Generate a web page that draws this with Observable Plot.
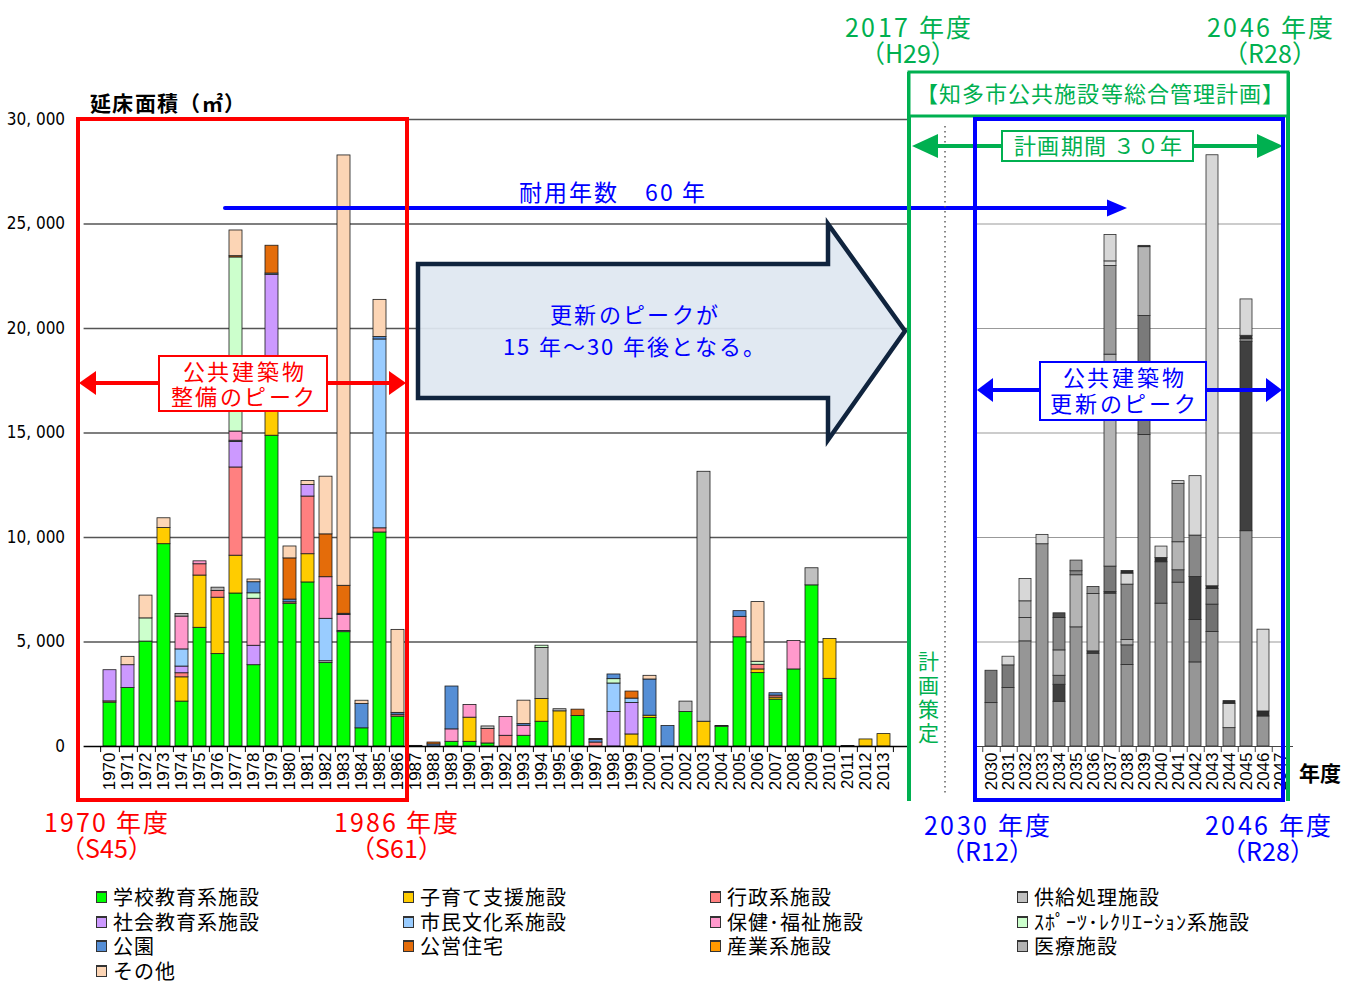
<!DOCTYPE html>
<html><head><meta charset="utf-8">
<script src="https://cdn.jsdelivr.net/npm/d3@7"></script>
<script src="https://cdn.jsdelivr.net/npm/@observablehq/plot@0.6"></script>
<style>
@font-face{font-family:"JPT";font-weight:400;src:local("Noto Sans CJK JP"),local("Noto Sans CJK JP Regular"),local("NotoSansCJKjp-Regular"),local("NotoSansCJKJP-Regular");ascent-override:88%;descent-override:12%;line-gap-override:0%;}
@font-face{font-family:"JPT";font-weight:700;src:local("Noto Sans CJK JP Bold"),local("NotoSansCJKjp-Bold"),local("NotoSansCJKJP-Bold");ascent-override:88%;descent-override:12%;line-gap-override:0%;}
html,body{margin:0;padding:0;background:#fff;}
#wrap{position:relative;width:1346px;height:982px;overflow:hidden;font-family:"JPT","Noto Sans CJK JP",sans-serif;}
#legend{position:absolute;left:96px;top:885px;display:grid;grid-template-columns:307px 307px 307px 307px;}
.item{display:flex;align-items:center;height:24.5px;font-size:20px;line-height:20px;letter-spacing:1px;color:#000;white-space:nowrap;}
.item span{line-height:20px;}
.sw{width:9px;height:9px;border:1px solid #333;border-top:2px solid #333;margin-right:6px;}
</style></head>
<body><div id="wrap"><div id="legend"></div></div>
<script>
// ---------- categories (legend order = stack order of the past chart) ----------
const categories = ["学校教育系施設","子育て支援施設","行政系施設","供給処理施設","社会教育系施設","市民文化系施設","保健･福祉施設","ｽﾎﾟｰﾂ･ﾚｸﾘｴｰｼｮﾝ系施設","公園","公営住宅","産業系施設","医療施設","その他"];
const categoryColors = ["#00ff00","#ffcc00","#ff8080","#c0c0c0","#cc99ff","#99ccff","#ff99cc","#ccffcc","#558ed5","#e46c0a","#ff9900","#b3b3b3","#fcd5b5"];
const renewalGrays   = ["#969696","#b4b4b4","#9c9c9c","#2e2e2e","#7a7a7a","#404040","#888888","#b4b4b4","#d9d9d9","#727272","#4d4d4d","#dadada","#d7d7d7"];

const yearsPast = ["1970","1971","1972","1973","1974","1975","1976","1977","1978","1979","1980","1981","1982","1983","1984","1985","1986","1987","1988","1989","1990","1991","1992","1993","1994","1995","1996","1997","1998","1999","2000","2001","2002","2003","2004","2005","2006","2007","2008","2009","2010","2011","2012","2013"];
const yearsRenewal = ["2030","2031","2032","2033","2034","2035","2036","2037","2038","2039","2040","2041","2042","2043","2044","2045","2046","2047"];
const yTicks = [0,5000,10000,15000,20000,25000,30000];

// ---------- past construction (m²), 1970–2013 ----------
const pastSchool  = [2100,2800,5020,9680,2150,5680,4420,7320,3890,14870, 6830,7850,3990,5470,870,10240,1430,0,0,225, 225,145,0,513,1186,0,1459,0,0,0, 1363,0,1651,0,946,5226,3511,2244,3687,7710, 3238,0,0,0];
const pastChild   = [0,0,0,770,1160,2500,2700,1810,0,2000, 0,1350,0,0,0,0,0,0,0,0, 1155,0,0,0,1090,1683,0,0,0,577, 112,0,0,1186,0,0,176,96,0,0, 1908,0,337,593];
const pastAdmin   = [60,0,0,0,195,540,320,4220,0,0, 70,2760,0,0,0,200,90,0,0,0, 0,690,513,0,0,0,0,190,0,0, 0,0,0,0,0,978,224,96,0,0, 0,0,0,0];
const pastSupply  = [0,0,0,0,0,0,0,0,0,0, 0,0,90,60,0,0,0,0,0,0, 0,125,0,0,2437,100,0,0,0,0, 0,0,497,11959,32,0,0,0,0,818, 0,20,0,0];
const pastSocial  = [1490,1090,0,0,320,0,0,1220,930,5700, 0,550,0,0,0,0,0,0,0,0, 0,0,0,0,0,0,0,0,1651,1507, 0,0,0,0,0,0,0,0,0,0, 0,0,0,0];
const pastCulture = [0,0,0,0,820,0,0,60,0,60, 0,0,2030,0,0,9035,0,0,0,0, 0,0,0,0,0,0,0,0,1363,208, 0,0,0,0,0,0,0,0,0,0, 0,0,0,0];
const pastWelfare = [0,0,0,0,1570,140,0,440,2250,0, 0,0,1990,760,0,0,0,0,0,595, 610,0,900,480,0,0,0,0,0,0, 0,0,0,0,0,0,0,0,1363,0, 0,0,0,0];
const pastSports  = [0,0,1110,0,0,0,0,8330,260,0, 0,0,0,0,0,0,0,0,0,0, 0,0,0,0,110,0,0,0,208,0, 0,0,0,0,0,0,144,0,0,0, 0,0,0,0];
const pastPark    = [0,0,0,0,0,0,0,0,530,0, 130,0,0,60,1160,115,90,30,100,2050, 0,0,0,80,0,0,0,130,224,0, 1731,978,0,0,0,272,0,113,0,0, 0,0,0,0];
const pastHousing = [0,0,0,0,0,0,0,60,0,1330, 1970,0,2050,1340,0,0,0,0,90,0, 0,0,0,0,0,0,304,40,0,337, 0,0,0,0,0,0,0,0,0,0, 0,0,0,0];
const pastIndustry= [0,0,0,0,0,0,0,0,0,0, 0,0,0,0,0,0,0,0,0,0, 0,0,0,0,0,0,0,0,0,0, 0,0,0,0,0,0,0,0,0,0, 0,0,0,0];
const pastMedical = [0,0,0,0,130,0,160,0,0,0, 0,0,0,0,0,0,0,0,0,0, 0,0,0,0,0,0,0,0,0,0, 0,0,0,0,0,0,0,0,0,0, 0,0,0,0];
const pastOther   = [0,400,1090,470,0,0,0,1230,130,0, 570,190,2760,20590,160,1780,3970,0,0,0, 0,0,0,1120,0,0,0,0,0,0, 176,0,0,0,0,0,2854,0,0,0, 0,0,0,0];

// ---------- renewal projection (m²), 2030–2047 ----------
const renewSchool  = [2076,2795,5031,9678,2140,5701,4440,7314,3897,14905,6835,7841,4024,5478,878,10301,1437,0];
const renewHousing = [0,0,0,0,0,0,0,0,0,0,1980,0,2028,1310,0,0,0,0];
const renewCulture = [0,0,0,0,814,0,112,80,0,0,0,0,2060,0,0,9050,0,0];
const renewSocial  = [1549,1086,0,0,431,0,0,1214,942,5695,0,591,0,0,0,150,0,0];
const renewChild   = [0,0,1117,0,1214,2492,2747,0,0,3291,0,1341,0,0,0,0,0,0];
const renewSports  = [0,0,799,0,0,0,0,10141,256,0,0,0,0,0,0,0,0,0];
const renewWelfare = [0,0,0,0,1549,192,0,0,2651,0,0,0,1980,751,0,0,0,0];
const renewAdmin   = [0,0,0,0,0,511,335,4240,0,0,0,2795,0,0,0,0,0,0];
const renewIndustry= [0,0,0,0,224,0,0,0,0,0,0,0,0,0,0,0,0,0];
const renewPark    = [0,0,0,0,0,0,0,0,527,0,0,0,0,0,1166,0,0,0];
const renewSupply  = [0,0,0,0,0,0,0,0,127,63,208,0,0,128,128,150,240,0];
const renewMedical = [0,0,0,0,0,0,0,222,0,0,0,0,0,0,0,0,0,0];
const renewOther   = [0,415,1070,447,0,0,0,1265,0,0,543,128,2843,20622,0,1740,3913,0];

// ---------- build tables ----------
const pastSeries = [pastSchool,pastChild,pastAdmin,pastSupply,pastSocial,pastCulture,pastWelfare,pastSports,pastPark,pastHousing,pastIndustry,pastMedical,pastOther];
const pastRows = categories.flatMap((c,i) => yearsPast.map((y,j) => ({year:y, cat:c, value:pastSeries[i][j]}))).filter(d => d.value > 0);

const renewalStack = [
  ["学校教育系施設", renewSchool], ["公営住宅", renewHousing], ["市民文化系施設", renewCulture],
  ["社会教育系施設", renewSocial], ["子育て支援施設", renewChild], ["ｽﾎﾟｰﾂ･ﾚｸﾘｴｰｼｮﾝ系施設", renewSports],
  ["保健･福祉施設", renewWelfare], ["行政系施設", renewAdmin], ["産業系施設", renewIndustry],
  ["公園", renewPark], ["供給処理施設", renewSupply], ["医療施設", renewMedical], ["その他", renewOther]
];
const renewalRows = renewalStack.flatMap(([c,arr]) => yearsRenewal.map((y,j) => ({year:y, cat:c, value:arr[j]}))).filter(d => d.value > 0);

const fmt = d => d === 0 ? "0" : d3.format(",")(d).replace(",", ", ");
const tickFont = '"Liberation Sans", Arial, sans-serif';

// ---------- past chart ----------
const pastLeft = 83.6, pastRight = 908.6;
const pastStep = (pastRight - pastLeft) / yearsPast.length;
const past = Plot.plot({
  width: 1346, height: 880,
  marginLeft: pastLeft, marginRight: 1346 - pastRight, marginTop: 119, marginBottom: 134,
  x: {type: "band", domain: yearsPast, padding: 0.3},
  y: {domain: [0, 30000]},
  color: {domain: categories, range: categoryColors},
  style: {background: "transparent"},
  marks: [
    Plot.gridY(yTicks.slice(1), {stroke: "#555", strokeOpacity: 1, strokeWidth: 1.4}),
    Plot.barY(pastRows, {x: "year", y: "value", fill: "cat", stroke: "#1a1a1a", strokeWidth: 0.8}),
    Plot.ruleY([0], {stroke: "#000", strokeWidth: 1.4}),
    Plot.ruleX(yearsPast, {x: d => d, dx: pastStep / 2, y1: 0, y2: -290, stroke: "#000"}),
    Plot.ruleX(yearsPast.slice(0, 1), {x: d => d, dx: -pastStep / 2, y1: 0, y2: -290, stroke: "#000"}),
    Plot.axisX({tickRotate: -90, tickSize: 0, tickPadding: 6, fontSize: 17, fontFamily: tickFont, label: null}),
    Plot.axisY(yTicks, {tickFormat: fmt, tickSize: 0, tickPadding: 19, fontSize: 17, fontFamily: '"Liberation Sans Narrow","DejaVu Sans Condensed",sans-serif', label: null})
  ]
});

// ---------- renewal chart ----------
const renLeft = 978, renRight = 1293;
const renStep = (renRight - renLeft) / yearsRenewal.length;
const renewal = Plot.plot({
  width: 1346, height: 880,
  marginLeft: renLeft, marginRight: 1346 - renRight, marginTop: 119, marginBottom: 134,
  x: {type: "band", domain: yearsRenewal, padding: 0.3},
  y: {domain: [0, 30000], axis: null},
  color: {domain: categories, range: renewalGrays},
  style: {background: "transparent"},
  marks: [
    Plot.gridY(yTicks.slice(1), {stroke: "#999", strokeOpacity: 1, strokeWidth: 1, insetLeft: -3, insetRight: 9}),
    Plot.barY(renewalRows, {x: "year", y: "value", fill: "cat", stroke: "#2a2a2a", strokeWidth: 0.8}),
    Plot.ruleY([0], {stroke: "#444", strokeWidth: 1.2, insetLeft: -3}),
    Plot.ruleX(yearsRenewal, {x: d => d, dx: renStep / 2, y1: 0, y2: -290, stroke: "#444"}),
    Plot.ruleX(yearsRenewal.slice(0, 1), {x: d => d, dx: -renStep / 2, y1: 0, y2: -290, stroke: "#444"}),
    Plot.axisX({tickRotate: -90, tickSize: 0, tickPadding: 6, fontSize: 17, fontFamily: tickFont, label: null})
  ]
});

const wrap = document.getElementById("wrap");
for (const el of [past, renewal]) {
  el.style.position = "absolute"; el.style.left = "0px"; el.style.top = "0px";
  el.style.maxWidth = "none";
  wrap.appendChild(el);
}

// ---------- annotations ----------
const svg = d3.select(wrap).append("svg").attr("width", 1346).attr("height", 880)
  .style("position", "absolute").style("left", "0px").style("top", "0px");
const F = '"JPT", "Noto Sans CJK JP", sans-serif';
// multi-line text as one element: lines = [[string, textLength|null], ...]
function txt(x, y, lines, color, size, o = {}) {
  if (!Array.isArray(lines)) lines = [[lines, o.len || null]];
  const t = svg.append("text").attr("x", x).attr("y", y).attr("fill", color)
    .attr("font-size", size).attr("font-family", F)
    .attr("text-anchor", o.anchor || "middle").attr("dominant-baseline", "central")
    .attr("font-weight", o.weight || 400);
  lines.forEach(([s, len], i) => {
    const ts = t.append("tspan").attr("x", x).attr("dy", i === 0 ? 0 : (o.gap || size)).text(s);
    if (len) ts.attr("textLength", len).attr("lengthAdjust", "spacing");
  });
  return t;
}
function poly(pts, fill) { svg.append("polygon").attr("points", pts).attr("fill", fill); }
function line(x1, y1, x2, y2, color, w, extra = {}) {
  const l = svg.append("line").attr("x1", x1).attr("y1", y1).attr("x2", x2).attr("y2", y2)
    .attr("stroke", color).attr("stroke-width", w);
  for (const k in extra) l.attr(k, extra[k]);
  return l;
}
const RED = "#ff0000", BLUE = "#0000ff", GREEN = "#00b050";

// big arrow
svg.append("polygon").attr("points", "418,264 828,264 828,224 905,331 828,440 828,398 418,398")
  .attr("fill", "#dfe7f1").attr("fill-opacity", 0.93).attr("stroke", "#10243e").attr("stroke-width", 4.5);
txt(634, 315, [["更新のピークが", 168], ["15 年～30 年後となる。", 262]], BLUE, 22, {gap: 32});

// 60-year line
line(225, 208, 1110, 208, BLUE, 4, {"stroke-linecap": "round"});
poly("1127,208 1107,199.5 1107,216.5", BLUE);
txt(612, 192, "耐用年数　60 年", BLUE, 23, {len: 186});

// red box & arrow
svg.append("rect").attr("x", 78).attr("y", 119).attr("width", 329).attr("height", 681)
  .attr("fill", "none").attr("stroke", RED).attr("stroke-width", 4);
line(92, 383, 392, 383, RED, 4);
poly("79,383 96,371 96,395", RED);
poly("406,383 389,371 389,395", RED);
svg.append("rect").attr("x", 159).attr("y", 356).attr("width", 168).attr("height", 55)
  .attr("fill", "#fff").attr("stroke", RED).attr("stroke-width", 2);
txt(243, 372, [["公共建築物", 121], ["整備のピーク", 144]], RED, 22, {gap: 25});

// green plan frame
line(909, 72, 909, 801, GREEN, 4);
line(1288, 72, 1288, 801, GREEN, 4);
svg.append("rect").attr("x", 909).attr("y", 72).attr("width", 379).attr("height", 44)
  .attr("fill", "#fff").attr("stroke", GREEN).attr("stroke-width", 3);
txt(1100, 94, "【知多市公共施設等総合管理計画】", GREEN, 22, {len: 368});
txt(908, 27, [["2017 年度", 126], ["（H29）", null]], GREEN, 25, {gap: 26});
txt(1270, 27, [["2046 年度", 126], ["（R28）", null]], GREEN, 25, {gap: 26});

// dotted divider
line(945, 126, 945, 795, "#555", 1.4, {"stroke-dasharray": "1.5 3.5"});

// plan period arrow
line(935, 146, 1260, 146, GREEN, 4);
poly("912,146 938,134 938,158", GREEN);
poly("1283,146 1257,134 1257,158", GREEN);
svg.append("rect").attr("x", 1002).attr("y", 131).attr("width", 191).attr("height", 30)
  .attr("fill", "#fff").attr("stroke", GREEN).attr("stroke-width", 2);
txt(1098, 146, "計画期間 ３０年", GREEN, 22, {len: 168});

// vertical 計画策定
txt(928, 661, [["計", null], ["画", null], ["策", null], ["定", null]], GREEN, 21, {gap: 24});

// blue box & arrow
svg.append("rect").attr("x", 975).attr("y", 119).attr("width", 308).attr("height", 681)
  .attr("fill", "none").attr("stroke", BLUE).attr("stroke-width", 4);
line(990, 390, 1268, 390, BLUE, 4);
poly("977,390 993,378 993,402", BLUE);
poly("1282,390 1266,378 1266,402", BLUE);
svg.append("rect").attr("x", 1040).attr("y", 362).attr("width", 166).attr("height", 58)
  .attr("fill", "#fff").attr("stroke", BLUE).attr("stroke-width", 2);
txt(1123, 378, [["公共建築物", 121], ["更新のピーク", 146]], BLUE, 22, {gap: 26});

// bottom year labels
txt(106, 822, [["1970 年度", 124], ["（S45）", null]], RED, 25, {gap: 26});
txt(396, 822, [["1986 年度", 124], ["（S61）", null]], RED, 25, {gap: 26});
txt(987, 825, [["2030 年度", 126], ["（R12）", null]], BLUE, 25, {gap: 26});
txt(1268, 825, [["2046 年度", 126], ["（R28）", null]], BLUE, 25, {gap: 26});

// axis titles
txt(90, 103, "延床面積（㎡）", "#000", 21, {anchor: "start", weight: 700, len: 155});
txt(1299, 773, "年度", "#000", 21, {anchor: "start", weight: 700});

// ---------- legend ----------
const legend = d3.select("#legend");
categories.forEach((c, i) => {
  const it = legend.append("div").attr("class", "item");
  it.append("div").attr("class", "sw").style("background", categoryColors[i]);
  it.append("span").text(c);
});
</script>
</body></html>
